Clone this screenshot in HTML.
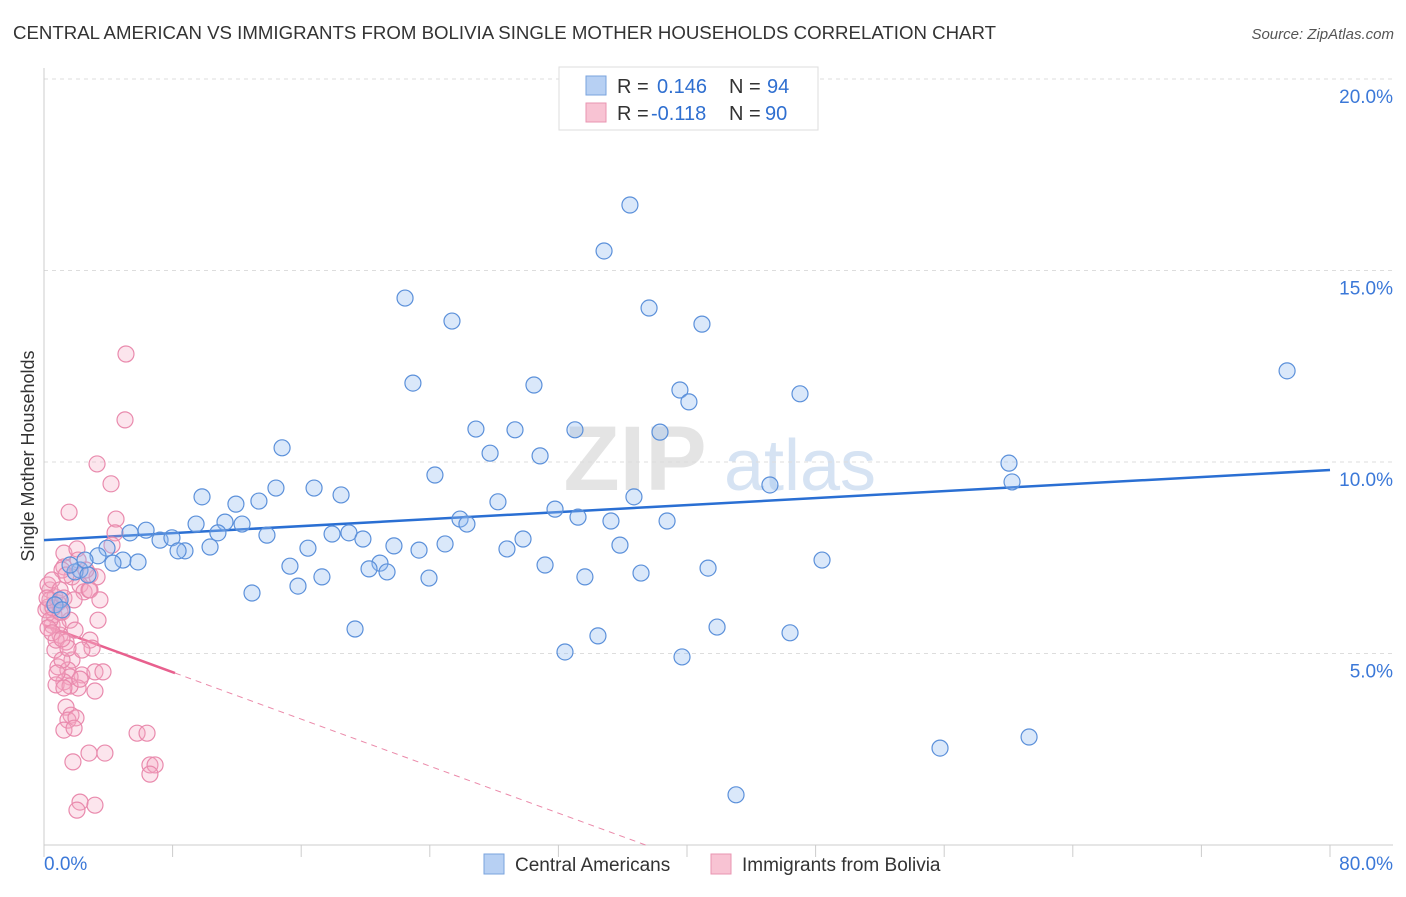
<!DOCTYPE html>
<html><head><meta charset="utf-8">
<style>
body{margin:0;background:#fff;font-family:"Liberation Sans",sans-serif;}
svg text{font-family:"Liberation Sans",sans-serif;}
</style></head>
<body>
<svg id="chart" width="1406" height="892" viewBox="0 0 1406 892" xmlns="http://www.w3.org/2000/svg">
<text x="13" y="39" font-size="18" fill="#333" textLength="983" lengthAdjust="spacingAndGlyphs">CENTRAL AMERICAN VS IMMIGRANTS FROM BOLIVIA SINGLE MOTHER HOUSEHOLDS CORRELATION CHART</text>
<text x="1394" y="39" font-size="15" fill="#555" text-anchor="end" font-style="italic">Source: ZipAtlas.com</text>
<text transform="translate(34,456) rotate(-90)" font-size="18" fill="#333" text-anchor="middle">Single Mother Households</text>
<g id="watermark">
<text x="635" y="490" font-size="92" fill="#e4e4e4" text-anchor="middle" font-family="Liberation Serif" font-weight="bold">ZIP</text>
<text x="800" y="490" font-size="72" fill="#d6e3f3" text-anchor="middle">atlas</text>
</g>
<g id="grid"></g>
<g id="axes"></g>
<g id="trends"></g>
<g id="points"></g>
<g>
<rect x="559" y="67" width="259" height="63" fill="#fff" stroke="#ddd"/>
<rect x="586" y="76" width="20" height="19" fill="#b7d0f3" stroke="#7aa3de"/>
<rect x="586" y="103" width="20" height="19" fill="#f8c3d3" stroke="#e994b2"/>
<g font-size="20">
<text x="617" y="93" fill="#333">R =</text><text x="657" y="93" fill="#2f6fd0">0.146</text>
<text x="729" y="93" fill="#333">N =</text><text x="767" y="93" fill="#2f6fd0">94</text>
</g>
<g font-size="20">
<text x="617" y="120" fill="#333">R =</text><text x="651" y="120" fill="#2f6fd0">-0.118</text>
<text x="729" y="120" fill="#333">N =</text><text x="765" y="120" fill="#2f6fd0">90</text>
</g>
</g>
<g>
<rect x="484" y="854" width="20" height="20" fill="#b7d0f3" stroke="#7aa3de"/>
<text x="515" y="871" font-size="19" fill="#333">Central Americans</text>
<rect x="711" y="854" width="20" height="20" fill="#f8c3d3" stroke="#e994b2"/>
<text x="742" y="871" font-size="19" fill="#333">Immigrants from Bolivia</text>
</g>
</svg>
<script>
const yTicks=[5,10,15,20];
const yTickLabels=["5.0%","10.0%","15.0%","20.0%"];
const xTickLabels=["0.0%","80.0%"];
const blueX=[36.45,34.84,22.46,25.38,37.64,40.93,77.33,22.95,30.48,39.56,40.12,47.03,14.81,26.87,29.30,33.03,38.32,27.75,30.86,24.32,60.03,60.22,45.16,14.43,16.80,18.48,9.83,11.94,13.37,28.24,36.70,31.79,25.88,26.31,33.22,35.27,38.76,9.46,11.26,12.32,6.35,5.35,7.22,7.96,10.82,13.87,17.92,18.97,19.84,24.95,29.80,35.83,8.77,8.34,10.33,16.42,21.77,23.33,28.80,3.92,3.36,4.91,4.29,5.85,15.30,20.90,20.22,21.34,31.17,41.31,48.40,37.14,33.65,17.29,23.95,15.80,12.94,19.35,34.46,41.87,46.41,32.41,39.69,55.74,61.28,43.05,2.24,1.93,2.74,1.0,0.68,1.12,1.62,2.55];
const blueY=[16.71,15.51,14.28,13.68,14.02,13.60,12.38,12.06,12.01,11.88,11.57,11.78,10.37,10.86,10.84,10.84,10.78,10.23,10.16,9.66,9.97,9.48,9.40,9.32,9.32,9.14,9.09,8.90,8.98,8.96,9.09,8.77,8.51,8.38,8.56,8.46,8.46,8.38,8.43,8.38,8.22,8.15,7.96,8.02,8.15,8.09,8.12,8.15,7.99,7.86,7.99,7.83,7.68,7.68,7.78,7.75,7.81,7.70,7.73,7.75,7.55,7.44,7.36,7.39,7.28,7.36,7.21,7.13,7.31,7.23,7.44,7.10,7.00,7.00,6.97,6.76,6.58,5.64,5.46,5.69,5.54,5.04,4.91,2.53,2.82,1.31,7.18,7.13,7.05,6.40,6.27,6.14,7.31,7.44];
const pinkX=[5.10,5.04,3.30,4.17,1.56,4.48,4.42,1.24,2.05,1.24,1.74,1.12,2.86,3.30,2.24,2.49,2.80,0.37,0.68,0.87,0.25,1.12,1.62,0.50,1.00,1.37,1.93,2.86,2.99,0.68,1.74,0.87,1.49,2.36,3.17,3.67,1.62,1.24,0.75,2.12,3.17,1.37,1.68,1.49,1.99,1.24,1.87,2.80,3.79,1.80,5.79,6.41,6.59,6.91,6.59,2.24,2.05,3.17,0.25,0.50,0.62,0.12,0.37,1.00,3.36,1.12,0.75,2.36,1.49,0.87,0.37,1.24,1.87,2.86,2.61,2.12,1.37,1.00,0.56,0.19,1.62,2.24,0.81,1.24,0.25,0.50,1.12,3.48,4.23];
const pinkY=[12.82,11.10,9.95,9.43,8.69,8.51,8.15,7.62,7.73,7.26,7.00,7.18,7.05,7.00,6.79,6.61,6.66,6.66,6.48,6.32,6.21,6.08,5.87,5.74,5.48,5.30,5.61,5.35,5.14,5.09,4.83,4.65,4.57,4.44,4.52,4.52,4.39,4.26,4.18,4.10,4.02,3.60,3.39,3.26,3.32,3.00,3.05,2.40,2.40,2.17,2.92,2.92,2.09,2.09,1.85,1.12,0.91,1.04,6.79,6.92,6.01,6.14,6.40,6.66,5.87,4.83,5.35,5.09,5.14,5.74,5.87,6.45,6.40,6.66,7.18,7.44,7.05,6.08,6.19,6.45,4.15,4.33,4.49,4.10,5.67,5.54,5.38,6.40,7.83];
const blueTrend=[7.96,9.79];
const pinkTrend=[5.74,4.49,8.15];

const NS="http://www.w3.org/2000/svg";
const X0=44,X1=1330,Y0=845,PY=38.3;
const sx=v=>X0+(X1-X0)*v/80;
const sy=v=>Y0-v*PY;
function mk(tag,attrs,parent){const e=document.createElementNS(NS,tag);for(const k in attrs)e.setAttribute(k,attrs[k]);parent.appendChild(e);return e;}
const grid=document.getElementById('grid'),axes=document.getElementById('axes'),trends=document.getElementById('trends'),pts=document.getElementById('points');
yTicks.forEach((t,i)=>{
  const l=mk('line',{x1:X0,x2:1393,y1:sy(t),y2:sy(t),stroke:'#ddd','stroke-dasharray':'4,4'},grid);
  
  
  const tx=mk('text',{x:1393,y:sy(t)+24,'font-size':19,fill:'#3b78d8','text-anchor':'end'},axes);
  tx.textContent=yTickLabels[i];
  
  
});
let a=mk('line',{x1:X0,x2:X0,y1:68,y2:Y0,stroke:'#ccc'},axes);


a=mk('line',{x1:X0,x2:1393,y1:Y0,y2:Y0,stroke:'#ccc'},axes);


for(let i=0;i<=10;i++){
  const t=mk('line',{x1:sx(i*8),x2:sx(i*8),y1:Y0,y2:857,stroke:'#ccc'},axes);
  
  
}
[[0,'start',X0],[1,'end',1393]].forEach(([i,anc,x])=>{
  const tx=mk('text',{x:x,y:870,'font-size':19,fill:'#3b78d8','text-anchor':anc},axes);
  tx.textContent=xTickLabels[i];
  
  
});
function dots(xs,ys,fill,stroke,name){
  xs.forEach((v,i)=>{
    const c=mk('circle',{cx:sx(v),cy:sy(ys[i]),r:8,fill:fill,stroke:stroke,'stroke-width':1.2},pts);
    
    
  });
}
dots(pinkX,pinkY,'rgba(245,170,195,0.3)','#e98aad','bolivia-point');
dots(blueX,blueY,'rgba(150,190,240,0.35)','#5b90da','central-american-point');
let tl=mk('line',{x1:sx(0),y1:sy(blueTrend[0]),x2:sx(80),y2:sy(blueTrend[1]),stroke:'#2a6fd3','stroke-width':2.5},trends);


const slope=(pinkTrend[1]-pinkTrend[0])/pinkTrend[2];
const xEnd=-pinkTrend[0]/slope;
tl=mk('line',{x1:sx(pinkTrend[2]),y1:sy(pinkTrend[1]),x2:sx(xEnd),y2:sy(0),stroke:'#eb8aaa','stroke-width':1,'stroke-dasharray':'6,5'},trends);


tl=mk('line',{x1:sx(0),y1:sy(pinkTrend[0]),x2:sx(pinkTrend[2]),y2:sy(pinkTrend[1]),stroke:'#e8608e','stroke-width':2.5},trends);


</script>
</body></html>
